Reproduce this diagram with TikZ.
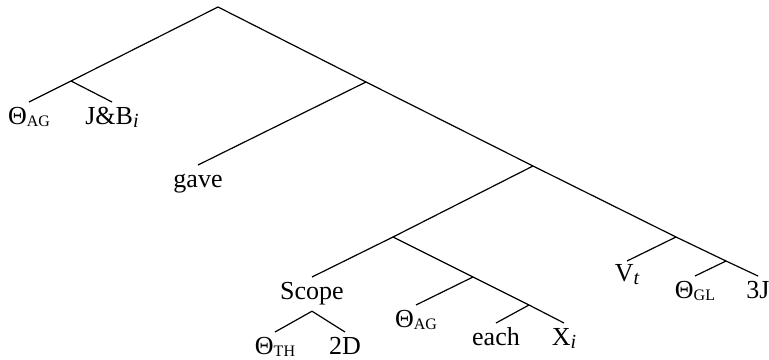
\documentclass[tikz,border=0pt]{standalone}
\usepackage{fontspec}
\setmainfont{Liberation Serif}
\usepackage{tikz}
\usetikzlibrary{positioning}

\newcommand{\lo}[1]{\raisebox{-1pt}{\fontsize{8}{8}\selectfont #1}}
\newcommand{\loi}[1]{\raisebox{-1.5pt}{\fontsize{10}{10}\selectfont\itshape #1}}

\begin{document}
\begin{tikzpicture}[x=0.5pt,y=-0.5pt,line width=0.6pt]
\tikzstyle{leaf}=[anchor=north,inner sep=2.5pt,text height=8.5pt,text depth=3pt,font=\fontsize{13}{15}\selectfont]
\useasboundingbox (0,0) rectangle (769,359);
% branching points
\coordinate (r) at (218,7);
\coordinate (n1) at (71,81);
\coordinate (n2) at (366,82);
\coordinate (n3) at (533,166);
\coordinate (n4) at (393,237);
\coordinate (n5) at (676,237);
\coordinate (n6) at (726,261);
\coordinate (n7) at (473,277);
\coordinate (n8) at (529,305);
% leaves
\node[leaf] (thag) at (29,102) {Θ\lo{AG}};
\node[leaf] (jb) at (112,102) {J\&B\loi{i}};
\node[leaf] (gave) at (198,165) {gave};
\node[leaf] (scope) at (312,277) {Scope};
\node[leaf] (thag2) at (416,305) {Θ\lo{AG}};
\node[leaf] (each) at (496,323) {each};
\node[leaf] (xi) at (564,323) {X\loi{i}};
\node[leaf,inner sep=1.6pt] (vt) at (627,261) {V\loi{t}};
\node[leaf] (thgl) at (695,276) {Θ\lo{GL}};
\node[leaf] (tj) at (758,276) {3J};
\node[leaf] (thth) at (275,332) {Θ\lo{TH}};
\node[leaf] (twod) at (345,332) {2D};
% branches
\draw (r) -- (n1);
\draw (n1) -- (thag.north);
\draw (n1) -- (jb.north);
\draw (r) -- (n2);
\draw (n2) -- (gave.north);
\draw (n2) -- (n3);
\draw (n3) -- (n4);
\draw (n4) -- (scope.north);
\draw (n4) -- (n7);
\draw (n7) -- (thag2.north);
\draw (n7) -- (n8);
\draw (n8) -- (each.north);
\draw (n8) -- (xi.north);
\draw (n3) -- (n5);
\draw (n5) -- (vt.north);
\draw (n5) -- (n6);
\draw (n6) -- (thgl.north);
\draw (n6) -- (tj.north);
% scope under the word
\draw (scope.south) -- (thth.north);
\draw (scope.south) -- (twod.north);
\end{tikzpicture}
\end{document}
